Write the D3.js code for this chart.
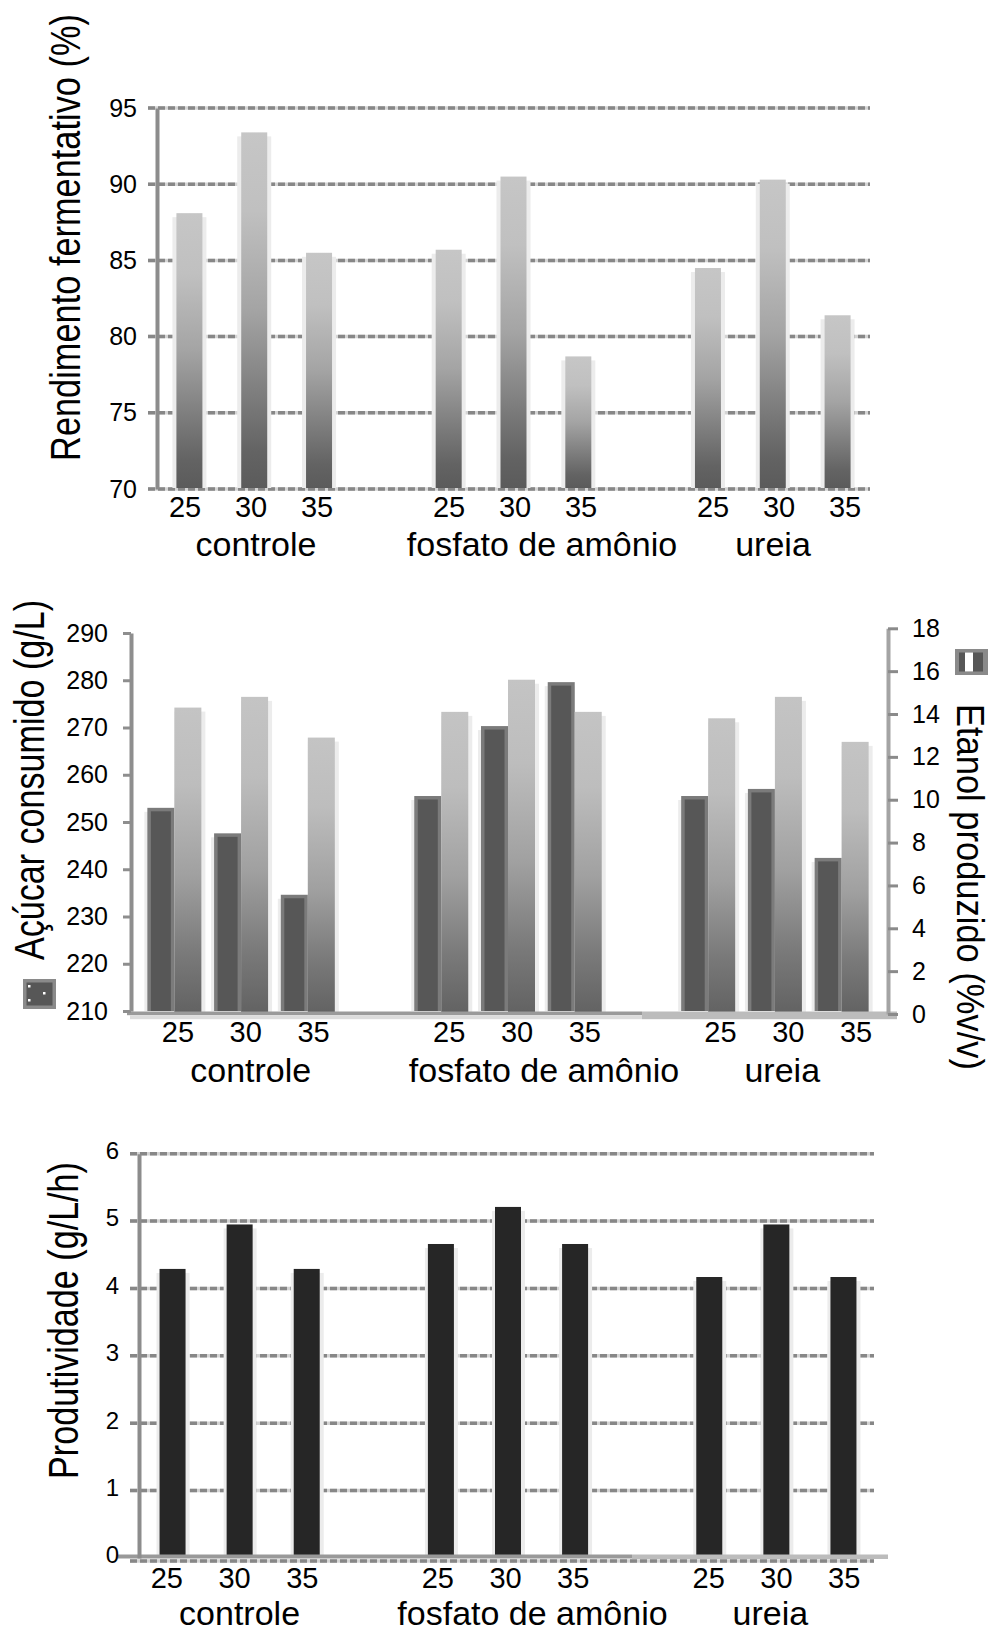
<!DOCTYPE html>
<html>
<head>
<meta charset="utf-8">
<script src="https://cdn.jsdelivr.net/npm/d3@7"></script>
<style>
  body { margin: 0; background: #fff; }
  svg { display: block; }
</style>
</head>
<body>
<svg id="fig" width="993" height="1633"></svg>
<script>
// ---- data ----
const categories = ["controle", "fosfato de amônio", "ureia"];
const temperatures = ["25", "30", "35"];

// Rendimento fermentativo (%)
const rendimento = [88.1, 93.4, 85.5, 85.7, 90.5, 78.7, 84.5, 90.3, 81.4];
// Açúcar consumido (g/L)
const acucarConsumido = [253.0, 247.6, 234.6, 255.5, 270.3, 279.6, 255.5, 257.0, 242.4];
// Etanol produzido (%v/v)
const etanolProduzido = [14.3, 14.8, 12.9, 14.1, 15.6, 14.1, 13.8, 14.8, 12.7];
// Produtividade (g/L/h)
const produtividade = [4.29, 4.95, 4.29, 4.66, 5.21, 4.66, 4.17, 4.95, 4.17];

const rendimentoTicks = [70, 75, 80, 85, 90, 95];
const acucarTicks = [210, 220, 230, 240, 250, 260, 270, 280, 290];
const etanolTicks = [0, 2, 4, 6, 8, 10, 12, 14, 16, 18];
const produtividadeTicks = [0, 1, 2, 3, 4, 5, 6];

const titles = {
  rendimento: "Rendimento fermentativo (%)",
  acucar: "Açúcar consumido (g/L)",
  etanol: "Etanol produzido (%v/v)",
  produtividade: "Produtividade (g/L/h)"
};

// ---- helpers ----
const FONT = '"Liberation Sans", Arial, Helvetica, sans-serif';
const svg = d3.select("#fig");
svg.append("rect").attr("width", 993).attr("height", 1633).attr("fill", "#fff");

// 11 slots: three temperatures per group with an empty slot between groups
const slots = [];
categories.forEach((c, g) => {
  if (g > 0) slots.push("sep" + g);
  temperatures.forEach(t => slots.push(c + "|" + t));
});
const keys = categories.flatMap(c => temperatures.map(t => c + "|" + t));
const middleKeys = categories.map(c => c + "|" + temperatures[1]);
const catShift = [5, 27, -6];

const defs = svg.append("defs");
function makeGradient(id, stops) {
  const lg = defs.append("linearGradient").attr("id", id)
    .attr("x1", 0).attr("y1", 0).attr("x2", 0).attr("y2", 1);
  lg.selectAll("stop").data(stops).join("stop")
    .attr("offset", d => d[0]).attr("stop-color", d => d[1]);
}
makeGradient("greyFade", [[0, "#c6c6c6"], [0.22, "#c0c0c0"], [0.5, "#a4a4a4"], [0.75, "#7b7b7b"], [0.9, "#636363"], [1, "#5b5b5b"]]);
makeGradient("greyFade2", [[0, "#c4c4c4"], [0.25, "#bdbdbd"], [0.55, "#a0a0a0"], [0.8, "#7a7a7a"], [1, "#626262"]]);

function gridlines(g, y, ticks, x0, x1, offset) {
  const rows = g.append("g").selectAll("g").data(ticks).join("g")
    .attr("transform", d => `translate(0,${y(d) + (offset ? offset(d) : 0)})`);
  rows.append("line").attr("x1", x0).attr("x2", x1)
    .attr("stroke", "#d4d4d4").attr("stroke-width", 3.5);
  rows.append("line").attr("x1", x0).attr("x2", x1)
    .attr("stroke", "#878787").attr("stroke-width", 3.5).attr("stroke-dasharray", "7 3");
}

function styleAxis(a, size) {
  a.attr("font-size", null).attr("font-family", null);
  a.selectAll("text").attr("font-size", size).attr("font-family", FONT).attr("fill", "#000");
}

function xLabels(g, labelScale, yBase, catBase) {
  const ax = d3.axisBottom(labelScale).tickValues(keys)
    .tickFormat(k => k.split("|")[1]).tickSize(0).tickPadding(0);
  const a = g.append("g").attr("transform", `translate(0,${yBase})`).call(ax);
  a.select(".domain").remove();
  styleAxis(a, 29);
  a.selectAll("text").attr("y", 0).attr("dy", null);
  g.append("g").selectAll("text").data(categories).join("text")
    .attr("x", (c, i) => labelScale(middleKeys[i]) + labelScale.bandwidth() / 2 + catShift[i])
    .attr("y", catBase)
    .attr("text-anchor", "middle")
    .attr("font-family", FONT).attr("font-size", 34).attr("fill", "#000")
    .text(d => d);
}

// vertical titles: tall glyphs squeezed along the reading direction
function vTitle(x, yc, text, len, angle, size) {
  const t = svg.append("text")
    .attr("text-anchor", "middle")
    .attr("font-family", FONT).attr("font-size", size).attr("fill", "#000")
    .text(text);
  const natural = t.node().getComputedTextLength();
  t.attr("transform", `translate(${x},${yc}) rotate(${angle}) scale(${len / natural},1)`);
}

const rows = keys.map((k, i) => ({ key: k, i }));

// ================= Chart 1: Rendimento fermentativo =================
{
  const g = svg.append("g");
  const y = d3.scaleLinear().domain([70, 95]).range([489, 108]);
  const x = d3.scaleBand().domain(slots).range([157, 870]);
  const bw = 26;
  const bx = d => x(d.key) + (x.bandwidth() - bw) / 2;

  gridlines(g, y, rendimentoTicks, 148, 870);

  // soft shadow behind bars
  g.append("g").selectAll("rect").data(rows).join("rect")
    .attr("x", d => bx(d) - 4).attr("width", bw + 8)
    .attr("y", d => y(rendimento[d.i]) + 4)
    .attr("height", d => y(70) - y(rendimento[d.i]) - 5)
    .attr("fill", "#ececec");
  g.append("g").selectAll("rect").data(rows).join("rect")
    .attr("x", bx).attr("width", bw)
    .attr("y", d => y(rendimento[d.i]))
    .attr("height", d => y(70) - y(rendimento[d.i]) - 1)
    .attr("fill", "url(#greyFade)");

  const ya = g.append("g").attr("transform", "translate(157,0)")
    .call(d3.axisLeft(y).tickValues(rendimentoTicks).tickSize(0).tickSizeOuter(0).tickPadding(20));
  ya.select(".domain").attr("stroke", "#8c8c8c").attr("stroke-width", 4);
  styleAxis(ya, 25);

  xLabels(g, d3.scaleBand().domain(slots).range([152, 878]), 517, 556);
  vTitle(80, 237.5, titles.rendimento, 447, -90, 42);
}

// ================= Chart 2: Açúcar consumido / Etanol produzido =================
{
  const g = svg.append("g");
  const yA = d3.scaleLinear().domain([210, 290]).range([1011, 633]);
  const yE = d3.scaleLinear().domain([0, 18]).range([1014, 628.3]);
  const x = d3.scaleBand().domain(slots).range([141, 875]);
  const bw = 27;
  const bx = d => x(d.key) + (x.bandwidth() - 2 * bw) / 2;

  // shadows
  g.append("g").selectAll("rect").data(rows).join("rect")
    .attr("x", d => bx(d) - 3).attr("width", bw + 3)
    .attr("y", d => yA(acucarConsumido[d.i]) + 4)
    .attr("height", d => yA(210) - yA(acucarConsumido[d.i]) - 4)
    .attr("fill", "#ececec");
  g.append("g").selectAll("rect").data(rows).join("rect")
    .attr("x", d => bx(d) + bw).attr("width", bw + 4)
    .attr("y", d => yE(etanolProduzido[d.i]) + 4)
    .attr("height", d => yE(0) - yE(etanolProduzido[d.i]) - 4)
    .attr("fill", "#ececec");

  // sugar consumed: dark bars with a lighter rim
  g.append("g").selectAll("rect").data(rows).join("rect")
    .attr("x", bx).attr("width", bw)
    .attr("y", d => yA(acucarConsumido[d.i]))
    .attr("height", d => yA(210) - yA(acucarConsumido[d.i]))
    .attr("fill", "#7b7b7b");
  g.append("g").selectAll("rect").data(rows).join("rect")
    .attr("x", d => bx(d) + 3.5).attr("width", bw - 7)
    .attr("y", d => yA(acucarConsumido[d.i]) + 3.5)
    .attr("height", d => yA(210) - yA(acucarConsumido[d.i]) - 3.5)
    .attr("fill", "#575757");

  // ethanol produced: graded bars
  g.append("g").selectAll("rect").data(rows).join("rect")
    .attr("x", d => bx(d) + bw).attr("width", bw)
    .attr("y", d => yE(etanolProduzido[d.i]))
    .attr("height", d => yE(0) - yE(etanolProduzido[d.i]))
    .attr("fill", "url(#greyFade2)");

  // floor
  g.append("rect").attr("x", 127).attr("width", 515).attr("y", 1011.5).attr("height", 3.7).attr("fill", "#9a9a9a");
  g.append("rect").attr("x", 130).attr("width", 512).attr("y", 1015.2).attr("height", 4).attr("fill", "#dcdcdc");
  g.append("rect").attr("x", 642).attr("width", 255).attr("y", 1011.5).attr("height", 7.7).attr("fill", "#bcbcbc");

  const yl = g.append("g").attr("transform", "translate(131,0)")
    .call(d3.axisLeft(yA).tickValues(acucarTicks).tickSize(8).tickSizeOuter(0).tickPadding(15));
  yl.select(".domain").attr("stroke", "#8e8e8e").attr("stroke-width", 4);
  yl.selectAll(".tick line").attr("stroke", "#8e8e8e").attr("stroke-width", 3);
  styleAxis(yl, 25);

  const yr = g.append("g").attr("transform", "translate(888,0)")
    .call(d3.axisRight(yE).tickValues(etanolTicks).tickSize(10).tickSizeOuter(0).tickPadding(14));
  yr.select(".domain").attr("stroke", "#a4a4a4").attr("stroke-width", 4);
  yr.selectAll(".tick line").attr("stroke", "#8a8a8a").attr("stroke-width", 3);
  styleAxis(yr, 25);

  xLabels(g, d3.scaleBand().domain(slots).range([144, 890]), 1042, 1082);

  // legend keys
  const lk = g.append("g").attr("transform", "translate(23,979)");
  lk.append("rect").attr("width", 33).attr("height", 30).attr("fill", "#8a8a8a");
  lk.append("rect").attr("x", 3.5).attr("y", 3.5).attr("width", 26).attr("height", 23).attr("fill", "#575757");
  lk.selectAll("rect.dot").data([[5, 6], [20, 13], [5, 20]]).join("rect").attr("class", "dot")
    .attr("x", d => d[0]).attr("y", d => d[1]).attr("width", 2.5).attr("height", 2.5).attr("fill", "#fff");

  const rk = g.append("g").attr("transform", "translate(955,649)");
  rk.append("rect").attr("width", 33).attr("height", 26).attr("fill", "#8a8a8a");
  rk.append("rect").attr("x", 4).attr("y", 3.5).attr("width", 24).attr("height", 19).attr("fill", "#575757");
  rk.append("rect").attr("x", 10).attr("y", 3.5).attr("width", 8).attr("height", 19).attr("fill", "#fff");

  vTitle(44, 780, titles.acucar, 360, -90, 42);
  vTitle(957, 887, titles.etanol, 366, 90, 39.5);
}

// ================= Chart 3: Produtividade =================
{
  const g = svg.append("g");
  const y = d3.scaleLinear().domain([0, 6]).range([1558, 1153.7]);
  const x = d3.scaleBand().domain(slots).range([139, 877]);
  const bw = 26;
  const bx = d => x(d.key) + (x.bandwidth() - bw) / 2;

  gridlines(g, y, produtividadeTicks, 130, 874, d => (d === 0 ? 3 : 0));

  g.append("g").selectAll("rect").data(rows).join("rect")
    .attr("x", d => bx(d) - 3).attr("width", bw + 7)
    .attr("y", d => y(produtividade[d.i]) + 4)
    .attr("height", d => y(0) - y(produtividade[d.i]) - 6)
    .attr("fill", "#ececec");
  g.append("g").selectAll("rect").data(rows).join("rect")
    .attr("x", bx).attr("width", bw)
    .attr("y", d => y(produtividade[d.i]))
    .attr("height", d => y(0) - y(produtividade[d.i]) - 2)
    .attr("fill", "#262626");

  // floor
  g.append("rect").attr("x", 118).attr("width", 514).attr("y", y(0) - 3.5).attr("height", 4).attr("fill", "#999");
  g.append("rect").attr("x", 632).attr("width", 256).attr("y", y(0) - 3.5).attr("height", 4.5).attr("fill", "#bcbcbc");

  const ya = g.append("g").attr("transform", "translate(139,0)")
    .call(d3.axisLeft(y).tickValues(produtividadeTicks).tickFormat(d3.format("d"))
      .tickSize(0).tickSizeOuter(0).tickPadding(20));
  ya.select(".domain").attr("stroke", "#8c8c8c").attr("stroke-width", 4);
  styleAxis(ya, 24);
  ya.selectAll("text").attr("dy", "0.2em");

  xLabels(g, d3.scaleBand().domain(slots).range([133, 878]), 1588, 1625);
  vTitle(78, 1320.5, titles.produtividade, 317, -90, 42);
}
</script>
</body>
</html>
